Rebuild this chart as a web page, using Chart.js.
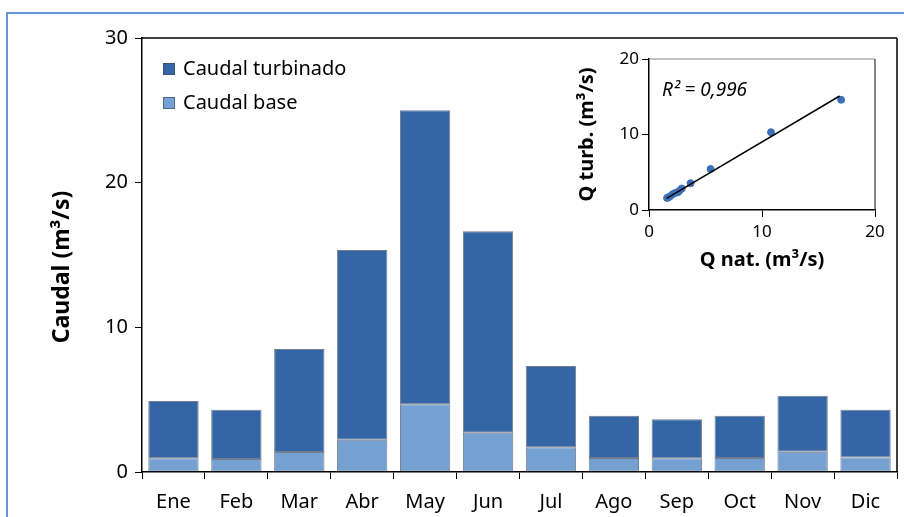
<!DOCTYPE html>
<html>
<head>
<meta charset="utf-8">
<script src="https://cdn.jsdelivr.net/npm/chart.js@4/dist/chart.umd.min.js"></script>
<style>
  html, body { margin: 0; padding: 0; background: #fff; overflow: hidden; }
  #frame { position: absolute; left: 6px; top: 12px; width: 1000px; height: 1000px; border: 2px solid #6893cc; }
  #mainChart { position: absolute; left: 0; top: 0; }
  #insetChart { position: absolute; left: 570px; top: 45px; }
</style>
</head>
<body>
<div id="frame"></div>
<canvas id="mainChart" width="904" height="517"></canvas>
<canvas id="insetChart" width="320" height="232"></canvas>
<script>
// Monthly flows (m3/s)
const months = ['Ene', 'Feb', 'Mar', 'Abr', 'May', 'Jun', 'Jul', 'Ago', 'Sep', 'Oct', 'Nov', 'Dic'];
const baseFlow = [0.95, 0.9, 1.38, 2.23, 4.68, 2.72, 1.71, 0.97, 0.95, 0.97, 1.4, 1.01];
const turbFlow = [3.95, 3.4, 7.12, 13.12, 20.32, 13.93, 5.62, 2.92, 2.69, 2.92, 3.87, 3.29];
const mainTicks = [0, 10, 20, 30];
const mainYTitle = 'Caudal (m³/s)';

// Inset: natural vs turbined flow
const natQ = [17.0, 10.8, 5.45, 3.68, 2.9, 2.7, 2.55, 2.3, 2.1, 1.85, 1.7, 1.6];
const turbQ = [14.6, 10.3, 5.43, 3.54, 2.85, 2.55, 2.35, 2.25, 2.1, 1.8, 1.65, 1.6];
const trendX = [1.56, 16.87];
const trendY = [1.55, 15.1];
const insetTicks = [0, 10, 20];
const r2Label = 'R² = 0,996';

const colTurb = '#3465a5';
const colBase = '#74a1d2';
const fontFamily = '"Noto Sans", "Open Sans", sans-serif';

// box around the plot area
const boxPlugin = {
  id: 'box',
  afterDraw(chart, args, opts) {
    const a = chart.chartArea;
    const ctx = chart.ctx;
    ctx.save();
    ctx.lineWidth = opts.width || 1.5;
    ctx.strokeStyle = opts.topColor || '#000';
    ctx.beginPath();
    ctx.moveTo(a.left, a.top);
    ctx.lineTo(a.right, a.top);
    ctx.stroke();
    ctx.strokeStyle = opts.rightColor || '#000';
    ctx.beginPath();
    ctx.moveTo(a.right, a.top);
    ctx.lineTo(a.right, a.bottom);
    ctx.stroke();
    ctx.restore();
  }
};

// legend drawn inside the plot area, top-left
const innerLegend = {
  id: 'innerLegend',
  afterDraw(chart) {
    const a = chart.chartArea;
    const ctx = chart.ctx;
    const items = chart.data.datasets.slice().reverse();
    ctx.save();
    ctx.font = '20px ' + fontFamily;
    ctx.textBaseline = 'middle';
    items.forEach((ds, i) => {
      const y = a.top + 31 + i * 34;
      ctx.fillStyle = ds.backgroundColor;
      ctx.fillRect(a.left + 21, y - 6, 12, 12);
      ctx.strokeStyle = 'rgba(60,70,90,0.6)';
      ctx.lineWidth = 1;
      ctx.strokeRect(a.left + 21.5, y - 5.5, 11, 11);
      ctx.fillStyle = '#000';
      ctx.fillText(ds.label, a.left + 41, y);
    });
    ctx.restore();
  }
};

// y title of the main chart, sits a bit below the plot centre like the original
const yTitlePlugin = {
  id: 'yTitle',
  afterDraw(chart) {
    const a = chart.chartArea;
    const ctx = chart.ctx;
    ctx.save();
    ctx.translate(62, (a.top + a.bottom) / 2 + 12);
    ctx.rotate(-Math.PI / 2);
    ctx.font = 'bold 23px ' + fontFamily;
    ctx.textAlign = 'center';
    ctx.textBaseline = 'middle';
    ctx.fillStyle = '#000';
    ctx.fillText(mainYTitle, 0, 0);
    ctx.restore();
  }
};

const r2Plugin = {
  id: 'r2',
  afterDraw(chart) {
    const a = chart.chartArea;
    const ctx = chart.ctx;
    ctx.save();
    ctx.font = 'italic 19px ' + fontFamily;
    ctx.textBaseline = 'middle';
    ctx.fillStyle = '#000';
    ctx.fillText(r2Label, a.left + 13, a.top + 32);
    ctx.restore();
  }
};

new Chart(document.getElementById('mainChart'), {
  type: 'bar',
  data: {
    labels: months,
    datasets: [
      {
        label: 'Caudal base',
        data: baseFlow,
        backgroundColor: colBase,
        borderColor: 'rgba(40,55,80,0.65)',
        borderWidth: 1,
        borderSkipped: false,
        barPercentage: 0.8,
        categoryPercentage: 1.0
      },
      {
        label: 'Caudal turbinado',
        data: turbFlow,
        backgroundColor: colTurb,
        borderColor: 'rgba(40,55,80,0.65)',
        borderWidth: 1,
        borderSkipped: false,
        barPercentage: 0.8,
        categoryPercentage: 1.0
      }
    ]
  },
  options: {
    responsive: false,
    animation: false,
    layout: { padding: { left: 0, right: 7, top: 38, bottom: 0 } },
    plugins: {
      legend: { display: false },
      tooltip: { enabled: false },
      box: { width: 1.5 }
    },
    scales: {
      x: {
        stacked: true,
        afterFit: (scale) => { scale.height = 45; },
        grid: { drawOnChartArea: false, drawTicks: true, tickLength: 7, color: '#000', offset: true },
        border: { display: true, color: '#000', width: 1.5 },
        ticks: { color: '#000', padding: 11, font: { family: fontFamily, size: 20 } }
      },
      y: {
        stacked: true,
        min: 0,
        max: 30,
        afterFit: (scale) => { scale.width = 142; },
        afterBuildTicks: (scale) => { scale.ticks = mainTicks.map(v => ({ value: v })); },
        grid: { drawOnChartArea: false, drawTicks: true, tickLength: 7, color: '#000' },
        border: { display: true, color: '#000', width: 1.5 },
        ticks: { color: '#000', padding: 7, font: { family: fontFamily, size: 20 } }
      }
    }
  },
  plugins: [boxPlugin, innerLegend, yTitlePlugin]
});

new Chart(document.getElementById('insetChart'), {
  type: 'scatter',
  data: {
    datasets: [
      {
        type: 'line',
        label: 'trend',
        data: trendX.map((x, i) => ({ x: x, y: trendY[i] })),
        borderColor: '#000',
        borderWidth: 1.5,
        pointRadius: 0,
        fill: false
      },
      {
        label: 'Q',
        data: natQ.map((x, i) => ({ x: x, y: turbQ[i] })),
        backgroundColor: '#3d6fb8',
        borderColor: '#3d6fb8',
        pointRadius: 3.5
      }
    ]
  },
  options: {
    responsive: false,
    animation: false,
    layout: { padding: { left: 0, right: 15, top: 14, bottom: 0 } },
    plugins: {
      legend: { display: false },
      tooltip: { enabled: false },
      box: { width: 1.2, topColor: '#8a8a8a', rightColor: '#333' }
    },
    scales: {
      x: {
        type: 'linear',
        min: 0,
        max: 20,
        afterFit: (scale) => { scale.height = 67; },
        afterBuildTicks: (scale) => { scale.ticks = insetTicks.map(v => ({ value: v })); },
        grid: { drawOnChartArea: false, drawTicks: true, tickLength: 7, color: '#000' },
        border: { display: true, color: '#000', width: 1.5 },
        ticks: { color: '#000', padding: 5, font: { family: fontFamily, size: 17 } },
        title: {
          display: true,
          text: 'Q nat. (m³/s)',
          color: '#000',
          font: { family: fontFamily, size: 20, weight: 'bold' },
          padding: { top: 0, bottom: 5 }
        }
      },
      y: {
        type: 'linear',
        min: 0,
        max: 20,
        afterFit: (scale) => { scale.width = 79; },
        afterBuildTicks: (scale) => { scale.ticks = insetTicks.map(v => ({ value: v })); },
        grid: { drawOnChartArea: false, drawTicks: true, tickLength: 7, color: '#000' },
        border: { display: true, color: '#000', width: 1.5 },
        ticks: { color: '#000', padding: 3, font: { family: fontFamily, size: 17 } },
        title: {
          display: true,
          text: 'Q turb. (m³/s)',
          color: '#000',
          font: { family: fontFamily, size: 20, weight: 'bold' },
          padding: { top: 5, bottom: 0 }
        }
      }
    }
  },
  plugins: [boxPlugin, r2Plugin]
});
</script>
</body>
</html>
